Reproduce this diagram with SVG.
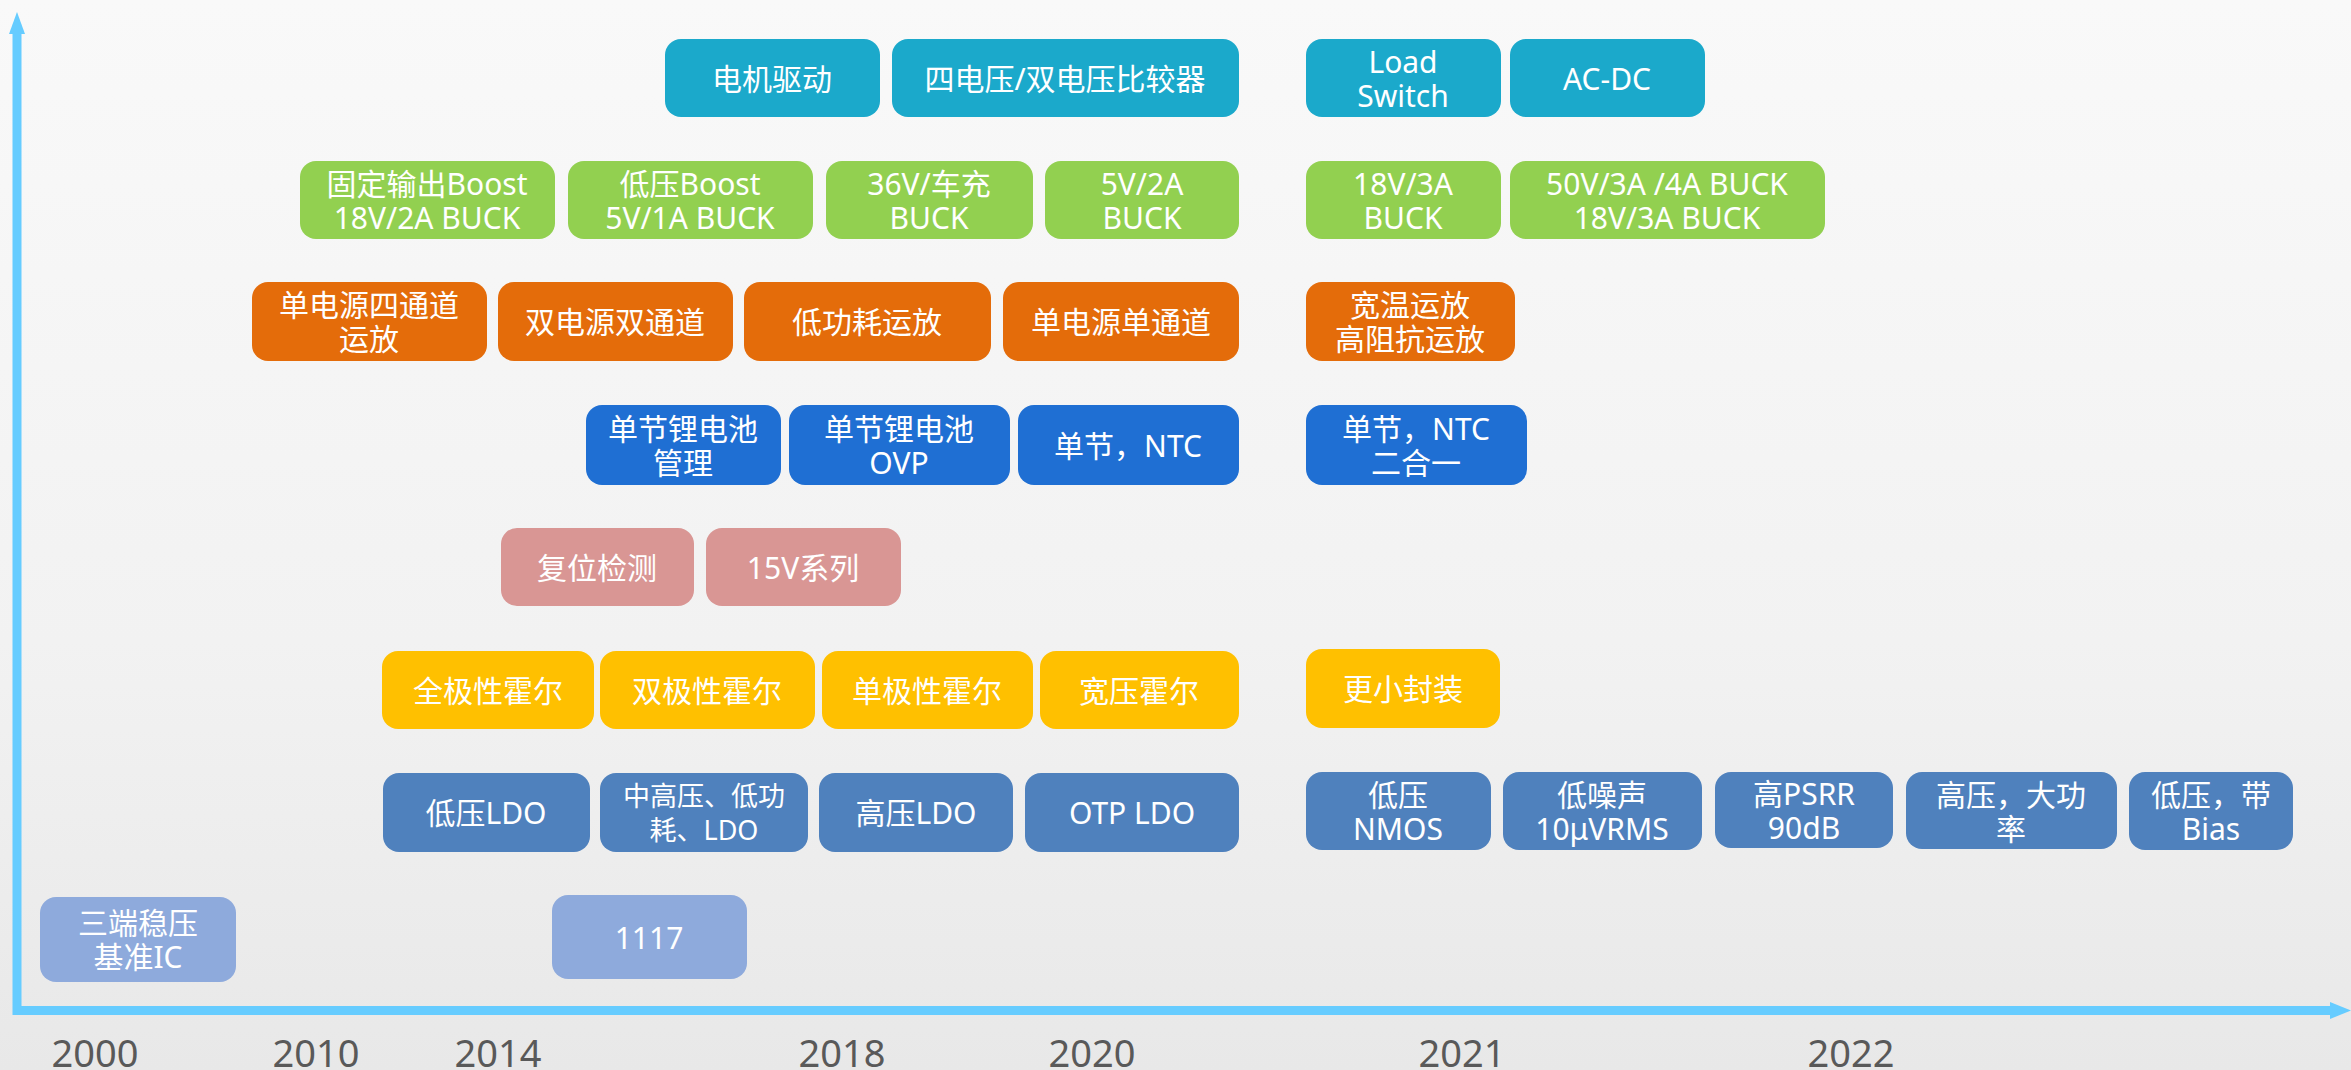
<svg xmlns="http://www.w3.org/2000/svg" width="2351" height="1070" viewBox="0 0 2351 1070">
<defs>
<linearGradient id="bg" x1="0" y1="0" x2="0" y2="1">
<stop offset="0" stop-color="#f9f9f9"/>
<stop offset="0.6" stop-color="#f2f2f2"/>
<stop offset="1" stop-color="#e8e8e8"/>
</linearGradient>
<style>
.b{rx:16px;ry:16px}
.teal{fill:#1BA9CB}
.green{fill:#92D050}
.orange{fill:#E46C0A}
.blue{fill:#1F6FD3}
.pink{fill:#D99694}
.yellow{fill:#FFC000}
.ldo{fill:#4F81BD}
.lb{fill:#8EAADC}
.t{font-family:"Noto Sans","Noto Sans CJK SC",sans-serif;font-size:30px;fill:#ffffff;text-anchor:middle;dominant-baseline:central}
.yr{font-family:"Noto Sans","Noto Sans CJK SC",sans-serif;font-size:38px;fill:#595959;text-anchor:middle}
.axis{stroke:#66CCFF;stroke-width:9;fill:none;stroke-linecap:round}
</style>
</defs>
<rect width="2351" height="1070" fill="url(#bg)"/>

<g id="connectors">
<path class="axis" d="M17 32 V1010.5 H2336"/>
<polygon points="17,12 9,34 25,34" fill="#66CCFF"/>
<polygon points="2351,1010.5 2330,1002 2330,1019" fill="#66CCFF"/>
</g>

<g id="years">
<text class="yr" x="95" y="1067">2000</text>
<text class="yr" x="316" y="1067">2010</text>
<text class="yr" x="498" y="1067">2014</text>
<text class="yr" x="842" y="1067">2018</text>
<text class="yr" x="1092" y="1067">2020</text>
<text class="yr" x="1462" y="1067">2021</text>
<text class="yr" x="1851" y="1067">2022</text>
</g>

<!-- teal row -->
<g id="n-motor"><rect class="b teal" x="665" y="39" width="215" height="78"/><text class="t" x="772" y="78">电机驱动</text></g>
<g id="n-comp"><rect class="b teal" x="892" y="39" width="347" height="78"/><text class="t" x="1065" y="78">四电压/双电压比较器</text></g>
<g id="n-load"><rect class="b teal" x="1306" y="39" width="195" height="78"/><text class="t" x="1403" y="61">Load</text><text class="t" x="1403" y="95">Switch</text></g>
<g id="n-acdc"><rect class="b teal" x="1510" y="39" width="195" height="78"/><text class="t" x="1607" y="78">AC-DC</text></g>

<!-- green row -->
<g id="n-g1"><rect class="b green" x="300" y="161" width="255" height="78"/><text class="t" x="427" y="183">固定输出Boost</text><text class="t" x="427" y="217">18V/2A BUCK</text></g>
<g id="n-g2"><rect class="b green" x="568" y="161" width="245" height="78"/><text class="t" x="690" y="183">低压Boost</text><text class="t" x="690" y="217">5V/1A BUCK</text></g>
<g id="n-g3"><rect class="b green" x="826" y="161" width="207" height="78"/><text class="t" x="929" y="183">36V/车充</text><text class="t" x="929" y="217">BUCK</text></g>
<g id="n-g4"><rect class="b green" x="1045" y="161" width="194" height="78"/><text class="t" x="1142" y="183">5V/2A</text><text class="t" x="1142" y="217">BUCK</text></g>
<g id="n-g5"><rect class="b green" x="1306" y="161" width="195" height="78"/><text class="t" x="1403" y="183">18V/3A</text><text class="t" x="1403" y="217">BUCK</text></g>
<g id="n-g6"><rect class="b green" x="1510" y="161" width="315" height="78"/><text class="t" x="1667" y="183">50V/3A /4A BUCK</text><text class="t" x="1667" y="217">18V/3A BUCK</text></g>

<!-- orange row -->
<g id="n-o1"><rect class="b orange" x="252" y="282" width="235" height="79"/><text class="t" x="369" y="304">单电源四通道</text><text class="t" x="369" y="338">运放</text></g>
<g id="n-o2"><rect class="b orange" x="498" y="282" width="235" height="79"/><text class="t" x="615" y="321">双电源双通道</text></g>
<g id="n-o3"><rect class="b orange" x="744" y="282" width="247" height="79"/><text class="t" x="867" y="321">低功耗运放</text></g>
<g id="n-o4"><rect class="b orange" x="1003" y="282" width="236" height="79"/><text class="t" x="1121" y="321">单电源单通道</text></g>
<g id="n-o5"><rect class="b orange" x="1306" y="282" width="209" height="79"/><text class="t" x="1410" y="304">宽温运放</text><text class="t" x="1410" y="338">高阻抗运放</text></g>

<!-- blue row -->
<g id="n-b1"><rect class="b blue" x="586" y="405" width="195" height="80"/><text class="t" x="683" y="428">单节锂电池</text><text class="t" x="683" y="462">管理</text></g>
<g id="n-b2"><rect class="b blue" x="789" y="405" width="221" height="80"/><text class="t" x="899" y="428">单节锂电池</text><text class="t" x="899" y="462">OVP</text></g>
<g id="n-b3"><rect class="b blue" x="1018" y="405" width="221" height="80"/><text class="t" x="1128" y="445">单节，NTC</text></g>
<g id="n-b4"><rect class="b blue" x="1306" y="405" width="221" height="80"/><text class="t" x="1416" y="428">单节，NTC</text><text class="t" x="1416" y="462">二合一</text></g>

<!-- pink row -->
<g id="n-p1"><rect class="b pink" x="501" y="528" width="193" height="78"/><text class="t" x="597" y="567">复位检测</text></g>
<g id="n-p2"><rect class="b pink" x="706" y="528" width="195" height="78"/><text class="t" x="803" y="567">15V系列</text></g>

<!-- yellow row -->
<g id="n-y1"><rect class="b yellow" x="382" y="651" width="212" height="78"/><text class="t" x="488" y="690">全极性霍尔</text></g>
<g id="n-y2"><rect class="b yellow" x="600" y="651" width="215" height="78"/><text class="t" x="707" y="690">双极性霍尔</text></g>
<g id="n-y3"><rect class="b yellow" x="822" y="651" width="211" height="78"/><text class="t" x="927" y="690">单极性霍尔</text></g>
<g id="n-y4"><rect class="b yellow" x="1040" y="651" width="199" height="78"/><text class="t" x="1139" y="690">宽压霍尔</text></g>
<g id="n-y5"><rect class="b yellow" x="1306" y="649" width="194" height="79"/><text class="t" x="1403" y="688">更小封装</text></g>

<!-- LDO row -->
<g id="n-l1"><rect class="b ldo" x="383" y="773" width="207" height="79"/><text class="t" x="486" y="812">低压LDO</text></g>
<g id="n-l2"><rect class="b ldo" x="600" y="773" width="208" height="79"/><text class="t" x="704" y="795" style="font-size:27px">中高压、低功</text><text class="t" x="704" y="829" style="font-size:27px">耗、LDO</text></g>
<g id="n-l3"><rect class="b ldo" x="819" y="773" width="194" height="79"/><text class="t" x="916" y="812">高压LDO</text></g>
<g id="n-l4"><rect class="b ldo" x="1025" y="773" width="214" height="79"/><text class="t" x="1132" y="812">OTP LDO</text></g>
<g id="n-l5"><rect class="b ldo" x="1306" y="772" width="185" height="78"/><text class="t" x="1398" y="794">低压</text><text class="t" x="1398" y="828">NMOS</text></g>
<g id="n-l6"><rect class="b ldo" x="1503" y="772" width="199" height="78"/><text class="t" x="1602" y="794">低噪声</text><text class="t" x="1602" y="828">10μVRMS</text></g>
<g id="n-l7"><rect class="b ldo" x="1715" y="772" width="178" height="76"/><text class="t" x="1804" y="793">高PSRR</text><text class="t" x="1804" y="827">90dB</text></g>
<g id="n-l8"><rect class="b ldo" x="1906" y="772" width="211" height="77"/><text class="t" x="2011" y="794">高压，大功</text><text class="t" x="2011" y="828">率</text></g>
<g id="n-l9"><rect class="b ldo" x="2129" y="772" width="164" height="78"/><text class="t" x="2211" y="794">低压，带</text><text class="t" x="2211" y="828">Bias</text></g>

<!-- bottom row -->
<g id="n-r1"><rect class="b lb" x="40" y="897" width="196" height="85"/><text class="t" x="138" y="922">三端稳压</text><text class="t" x="138" y="956">基准IC</text></g>
<g id="n-r2"><rect class="b lb" x="552" y="895" width="195" height="84"/><text class="t" x="649" y="937">1117</text></g>
</svg>
